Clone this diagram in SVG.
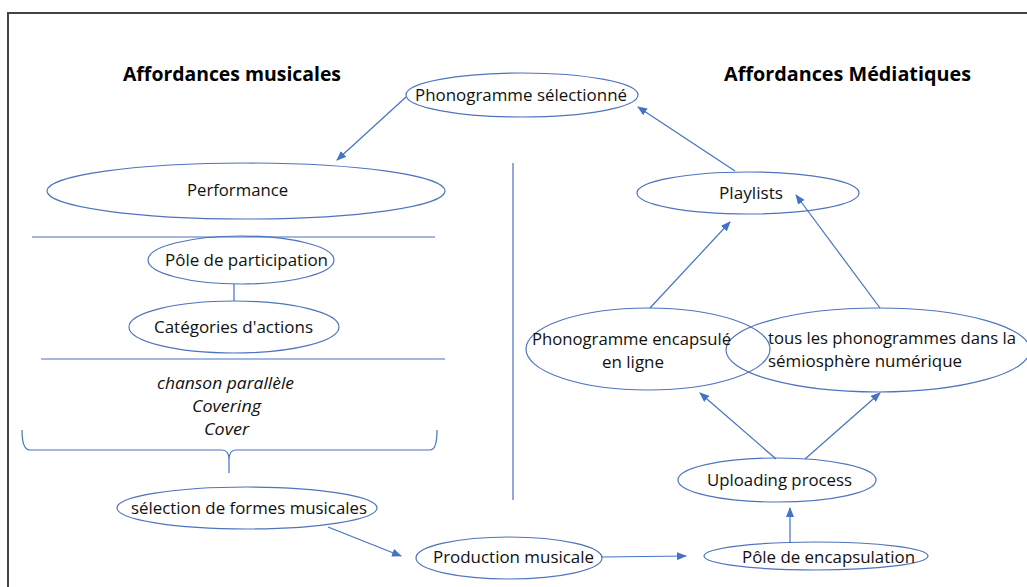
<svg xmlns="http://www.w3.org/2000/svg" width="1027" height="587" viewBox="0 0 1027 587">
<defs>
<marker id="ah" markerWidth="10" markerHeight="8" refX="9" refY="4" orient="auto" markerUnits="userSpaceOnUse">
<path d="M0,0 L10,4 L0,8 Z" fill="#4472C4"/>
</marker>
<style>
.n{fill:#fff;stroke:#4F74BD;stroke-width:1.2}
.t{font-family:"Open Sans","Liberation Sans",sans-serif;font-size:16px;fill:#111}
.h{font-family:"Open Sans","Liberation Sans",sans-serif;font-size:19px;font-weight:bold;fill:#000}
.i{font-family:"Open Sans","Liberation Sans",sans-serif;font-size:16px;font-style:italic;fill:#111}
.c{stroke:#4472C4;stroke-width:1.2;fill:none}
.a{stroke:#4472C4;stroke-width:1.2;fill:none;marker-end:url(#ah)}
</style>
</defs>
<rect width="1027" height="587" fill="#fff"/>
<path d="M8,587 L8,13 L1027,13" fill="none" stroke="#444" stroke-width="2"/>
<text class="h" x="123" y="81" textLength="218" lengthAdjust="spacingAndGlyphs">Affordances musicales</text>
<text class="h" x="724" y="81" textLength="247" lengthAdjust="spacingAndGlyphs">Affordances Médiatiques</text>
<g id="n-phonogramme-selectionne">
<ellipse class="n" cx="522" cy="95" rx="116" ry="22"/>
<text class="t" x="415" y="101" textLength="212" lengthAdjust="spacingAndGlyphs">Phonogramme sélectionné</text>
</g>
<g id="n-performance">
<ellipse class="n" cx="246" cy="191" rx="199" ry="28"/>
<text class="t" x="187" y="196" textLength="101" lengthAdjust="spacingAndGlyphs">Performance</text>
</g>
<g id="n-pole-participation">
<ellipse class="n" cx="241" cy="260" rx="93" ry="24"/>
<text class="t" x="165" y="266" textLength="163" lengthAdjust="spacingAndGlyphs">Pôle de participation</text>
</g>
<g id="n-categories">
<ellipse class="n" cx="234" cy="327" rx="105" ry="26"/>
<text class="t" x="154" y="333" textLength="159" lengthAdjust="spacingAndGlyphs">Catégories d'actions</text>
</g>
<g id="n-forms-list">
<text class="i" x="157" y="389" textLength="137" lengthAdjust="spacingAndGlyphs">chanson parallèle</text>
<text class="i" x="192" y="412" textLength="69" lengthAdjust="spacingAndGlyphs">Covering</text>
<text class="i" x="204" y="435" textLength="45" lengthAdjust="spacingAndGlyphs">Cover</text>
</g>
<g id="n-selection">
<ellipse class="n" cx="247" cy="508" rx="130" ry="21"/>
<text class="t" x="131" y="514" textLength="236" lengthAdjust="spacingAndGlyphs">sélection de formes musicales</text>
</g>
<g id="n-production">
<ellipse class="n" cx="509" cy="558" rx="93" ry="21"/>
<text class="t" x="433" y="563" textLength="161" lengthAdjust="spacingAndGlyphs">Production musicale</text>
</g>
<g id="n-pole-encapsulation">
<ellipse class="n" cx="816" cy="556" rx="112" ry="14"/>
<text class="t" x="742" y="563" textLength="173" lengthAdjust="spacingAndGlyphs">Pôle de encapsulation</text>
</g>
<g id="n-uploading">
<ellipse class="n" cx="777" cy="480" rx="99" ry="22"/>
<text class="t" x="707" y="486" textLength="145" lengthAdjust="spacingAndGlyphs">Uploading process</text>
</g>
<g id="n-encapsule">
<ellipse class="n" cx="648" cy="349" rx="122" ry="41"/>
</g>
<g id="n-tous">
<ellipse class="n" cx="878" cy="350" rx="152" ry="42" style="fill:none"/>
</g>
<g id="n-encapsule-text">
<text class="t" x="532" y="345" textLength="199" lengthAdjust="spacingAndGlyphs">Phonogramme encapsulé</text>
<text class="t" x="602" y="368" textLength="62" lengthAdjust="spacingAndGlyphs">en ligne</text>
</g>
<g id="n-tous-text">
<text class="t" x="768" y="344" textLength="248" lengthAdjust="spacingAndGlyphs">tous les phonogrammes dans la</text>
<text class="t" x="768" y="367" textLength="194" lengthAdjust="spacingAndGlyphs">sémiosphère numérique</text>
</g>
<g id="n-playlists">
<ellipse class="n" cx="748" cy="193" rx="111" ry="21"/>
<text class="t" x="719" y="199" textLength="64" lengthAdjust="spacingAndGlyphs">Playlists</text>
</g>
<g id="connectors">
<line class="c" x1="32" y1="237" x2="435" y2="237"/>
<line class="c" x1="41" y1="359" x2="445" y2="359"/>
<line class="c" x1="234" y1="284" x2="234" y2="301"/>
<line class="c" x1="513" y1="163" x2="513" y2="500"/>
<path class="c" d="M22,430 Q22,450 30,450 L222,450 Q229,450 229,460 L229,473 M229,460 Q229,450 236,450 L430,450 Q437,450 437,430"/>
<line class="a" x1="406" y1="97" x2="337" y2="160"/>
<line class="a" x1="735" y1="171" x2="638" y2="107"/>
<line class="a" x1="650" y1="308" x2="730" y2="222"/>
<line class="a" x1="880" y1="308" x2="796" y2="195"/>
<line class="a" x1="776" y1="459" x2="700" y2="393"/>
<line class="a" x1="805" y1="459" x2="880" y2="393"/>
<line class="a" x1="790" y1="542" x2="790" y2="508"/>
<line class="a" x1="602" y1="557" x2="686" y2="556"/>
<line class="a" x1="328" y1="527" x2="401" y2="556"/>
</g>
</svg>
